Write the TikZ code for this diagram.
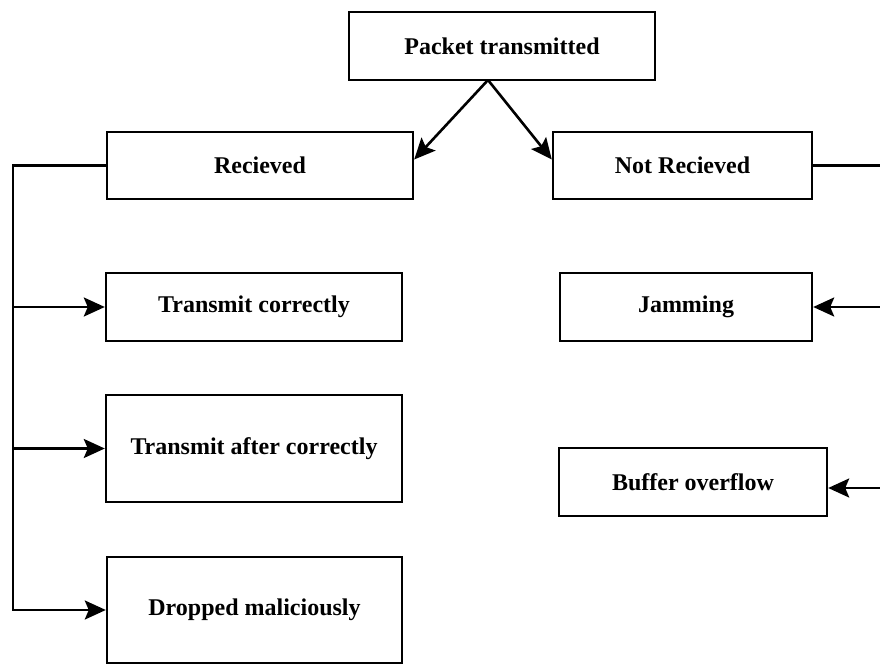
\documentclass[tikz,border=0pt]{standalone}
\usepackage{fontspec}
\setmainfont{Liberation Serif}
\usepackage{tikz}
\usetikzlibrary{positioning,arrows.meta}
\tikzstyle{StateBox}=[rectangle, draw=black, line width=1.2pt, inner sep=0pt, font=\fontsize{12}{14}\selectfont\bfseries]
\tikzstyle{Link}=[line width=1.3pt, -{Stealth[length=10.5pt,width=9.5pt,inset=2pt]}]

\begin{document}
\begin{tikzpicture}[x=0.5pt, y=-0.5pt, thick]
      \useasboundingbox (0,0) rectangle (880,669);
      \clip (0,0) rectangle (880,669);
      \node[StateBox, minimum width=153pt, minimum height=34pt] (1) at (502,46) {Packet transmitted};
      \node[StateBox, minimum width=153pt, minimum height=33.5pt] (2) at (260,165.5) {Recieved};
      \node[StateBox, minimum width=129.5pt, minimum height=33.5pt] (3) at (682.5,165.5) {Not Recieved};
      \node[StateBox, minimum width=148pt, minimum height=34pt] (4) at (254,307) {Transmit correctly};
      \node[StateBox, minimum width=148pt, minimum height=53.5pt] (5) at (254,448.5) {Transmit after correctly};
      \node[StateBox, minimum width=147.5pt, minimum height=53pt] (6) at (254.5,610) {Dropped maliciously};
      \node[StateBox, minimum width=126pt, minimum height=34pt] (7) at (686,307) {Jamming};
      \node[StateBox, minimum width=134pt, minimum height=34pt] (8) at (693,482) {Buffer overflow};
      \coordinate (top) at (488,80);
      \coordinate (lbus) at (13,165);
      \coordinate (rbus) at (886,165);
      \draw[Link] (top) -- ([yshift=3pt]2.east);
      \draw[Link] (top) -- ([yshift=3pt]3.west);
      \draw[Link] (2.west) -- (2.west -| lbus) |- (6.west);
      \draw[Link] (lbus |- 4.west) -- (4.west);
      \draw[Link] (lbus |- 5.west) -- (5.west);
      \draw[Link] (3.east) -- (3.east -| rbus) |- ([yshift=-3pt]8.east);
      \draw[Link] (rbus |- 7.east) -- (7.east);
    \end{tikzpicture}
\end{document}
